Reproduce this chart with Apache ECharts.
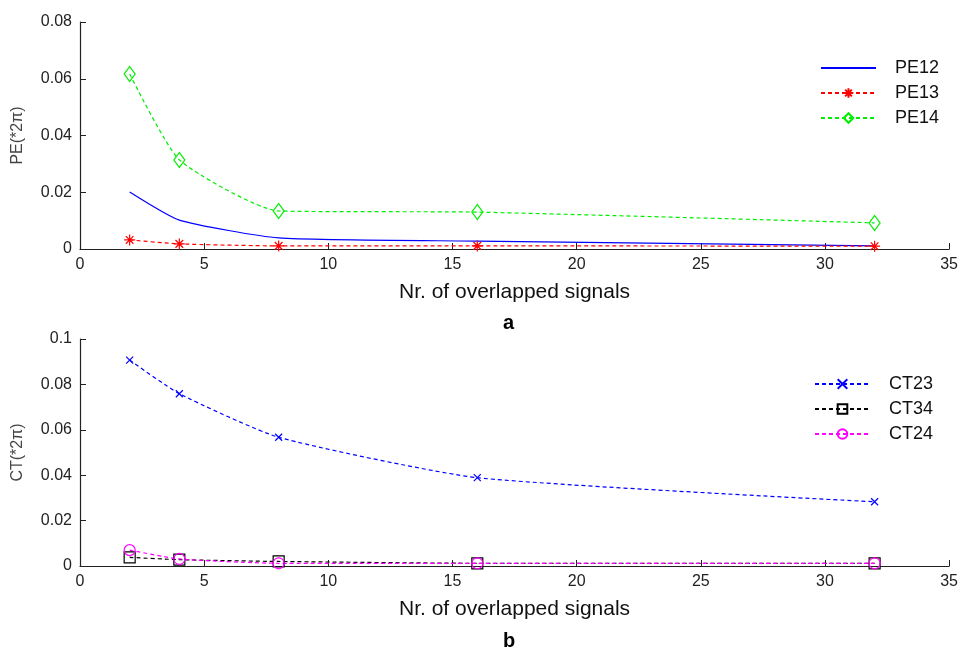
<!DOCTYPE html>
<html lang="en">
<head>
    <meta charset="UTF-8">
    <title>PE / CT vs overlapped signals</title>
    <script src="https://cdn.jsdelivr.net/npm/echarts@6/dist/echarts.min.js"></script>
</head>
<body style="margin:0;background:#fff">
    <div id="main" style="width:961px;height:650px"></div>
    <script>
        // x positions (number of overlapped signals)
        var nSignals = [2, 4, 8, 16, 32];
        // panel a
        var pe12 = [0.0201, 0.0102, 0.0039, 0.0028, 0.0011];
        var pe13 = [0.0032, 0.0018, 0.0011, 0.0011, 0.0010];
        var pe14 = [0.0617, 0.0314, 0.0134, 0.0130, 0.0092];
        // panel b
        var ct23 = [0.0907, 0.0759, 0.0567, 0.0389, 0.0283];
        var ct34 = [0.0038, 0.0028, 0.0020, 0.0012, 0.0012];
        var ct24 = [0.0070, 0.0031, 0.0012, 0.0012, 0.0012];

        var xTicks = [0, 35, 5];
        var font = 'Liberation Sans, Arial, sans-serif';

        function pairs(ys) {
            return nSignals.map(function (x, i) { return [x, ys[i]]; });
        }

        var starPath = 'path://M5,0L5,10M0,5L10,5M1.5,1.5L8.5,8.5M1.5,8.5L8.5,1.5';
        var crossPath = 'path://M0,0L10,10M0,10L10,0';

        function mkSeries(name, ys, idx, color, dashed, symbol, size) {
            return {
                name: name,
                type: 'line',
                xAxisIndex: idx,
                yAxisIndex: idx,
                data: pairs(ys),
                smooth: 0.18,
                symbol: symbol || 'none',
                symbolSize: size || 10,
                showSymbol: !!symbol,
                lineStyle: { color: color, width: 1.2, type: dashed ? [4, 3] : 'solid' },
                itemStyle: { color: 'transparent', borderColor: color, borderWidth: 1.2 },
                emphasis: { disabled: true },
                animation: false
            };
        }

        function xAxis(idx) {
            return {
                type: 'value', gridIndex: idx,
                min: xTicks[0], max: xTicks[1], interval: xTicks[2],
                name: 'Nr. of overlapped signals', nameLocation: 'middle', nameGap: 33,
                nameTextStyle: { fontFamily: font, fontSize: 21, color: '#111' },
                axisLine: { lineStyle: { color: '#222', width: 1.2 } },
                axisTick: { inside: true, length: 6, lineStyle: { color: '#222' } },
                axisLabel: { fontFamily: font, fontSize: 16, color: '#222', margin: 8 },
                splitLine: { show: false }
            };
        }

        function yAxis(idx, name, max) {
            return {
                type: 'value', gridIndex: idx,
                min: 0, max: max, interval: 0.02,
                name: name, nameLocation: 'middle', nameGap: 54,
                nameTextStyle: { fontFamily: font, fontSize: 16, color: '#444' },
                axisLine: { show: true, lineStyle: { color: '#222', width: 1.2 } },
                axisTick: { show: true, inside: true, length: 6, lineStyle: { color: '#222' } },
                axisLabel: { fontFamily: font, fontSize: 16, color: '#222', margin: 8 },
                splitLine: { show: false }
            };
        }

        var legendText = { fontFamily: font, fontSize: 18, color: '#111', padding: [0, 0, 0, 14] };

        var myChart = echarts.init(document.getElementById('main'));
        var option = {
            backgroundColor: '#fff',
            title: [
                { text: 'a', left: 498, top: 308, textStyle: { fontFamily: font, fontSize: 20, fontWeight: 'bold', color: '#000' } },
                { text: 'b', left: 498, top: 626, textStyle: { fontFamily: font, fontSize: 20, fontWeight: 'bold', color: '#000' } }
            ],
            grid: [
                { left: 80, top: 22, width: 870, height: 227 },
                { left: 80, top: 339, width: 870, height: 227 }
            ],
            xAxis: [xAxis(0), xAxis(1)],
            yAxis: [yAxis(0, 'PE(*2π)', 0.08), yAxis(1, 'CT(*2π)', 0.1)],
            legend: [
                {
                    data: [
                        { name: 'PE12', itemStyle: { color: 'transparent', borderColor: 'transparent', borderWidth: 0 } },
                        'PE13', 'PE14'
                    ],
                    orient: 'vertical', left: 815, top: 54,
                    itemWidth: 55, itemHeight: 12, itemGap: 7,
                    textStyle: legendText
                },
                {
                    data: ['CT23', 'CT34', 'CT24'], orient: 'vertical', left: 809, top: 370,
                    itemWidth: 55, itemHeight: 12, itemGap: 7,
                    textStyle: legendText
                }
            ],
            series: [
                mkSeries('PE12', pe12, 0, '#0000ff', false, null),
                mkSeries('PE13', pe13, 0, '#ff0000', true, starPath, 11),
                mkSeries('PE14', pe14, 0, '#00ee00', true, 'diamond', [11, 15]),
                mkSeries('CT23', ct23, 1, '#0000ff', true, crossPath, 7),
                mkSeries('CT34', ct34, 1, '#000000', true, 'rect', 11),
                mkSeries('CT24', ct24, 1, '#ff00ff', true, 'circle', 11)
            ]
        };
        myChart.setOption(option);
    </script>
</body>
</html>
